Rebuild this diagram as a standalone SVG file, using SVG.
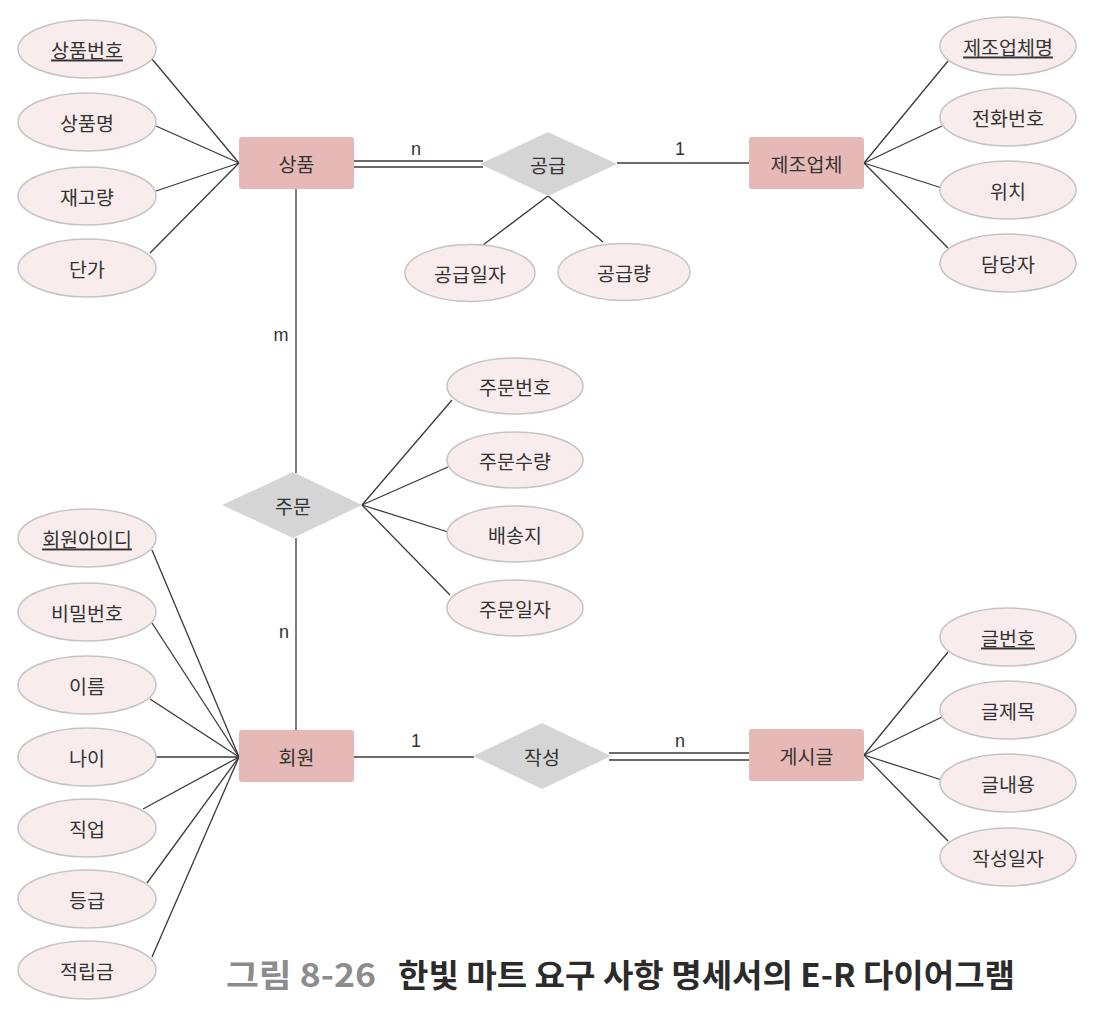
<svg xmlns="http://www.w3.org/2000/svg" width="1108" height="1020" viewBox="0 0 1108 1020">
<style>
text{font-family:"Noto Sans CJK KR","Noto Sans",sans-serif;fill:#333;}
.lbl{font-size:19.5px;text-anchor:middle;dominant-baseline:central;}
.key{text-decoration:underline;}
.attr{fill:#f8ecec;stroke:#c4c4c4;stroke-width:1.5;}
.ent{fill:#e6b9b6;}
.rel{fill:#d5d5d5;}
.ln{stroke:#3a3a3a;stroke-width:1.3;fill:none;}
.card{font-family:"Liberation Sans",Arial,sans-serif;font-size:18px;text-anchor:middle;fill:#333;}
.cap{font-size:32px;font-weight:bold;}
</style>
<rect width="1108" height="1020" fill="#fff"/>
<g id="connectors">
  <line class="ln" x1="152" y1="59" x2="239" y2="163"/>
  <line class="ln" x1="156" y1="126" x2="239" y2="163"/>
  <line class="ln" x1="156" y1="191" x2="239" y2="163"/>
  <line class="ln" x1="150" y1="253" x2="239" y2="163"/>
  <line class="ln" x1="864" y1="163" x2="948" y2="61"/>
  <line class="ln" x1="864" y1="163" x2="942" y2="126"/>
  <line class="ln" x1="864" y1="163" x2="942" y2="188"/>
  <line class="ln" x1="864" y1="163" x2="948" y2="248"/>
  <line class="ln" x1="354" y1="161" x2="483" y2="161"/>
  <line class="ln" x1="354" y1="167" x2="483" y2="167"/>
  <line class="ln" x1="617" y1="163" x2="749" y2="163"/>
  <line class="ln" x1="548" y1="196" x2="483" y2="245"/>
  <line class="ln" x1="548" y1="196" x2="603" y2="242"/>
  <line class="ln" x1="296" y1="189" x2="296" y2="473"/>
  <line class="ln" x1="296" y1="538" x2="296" y2="730"/>
  <line class="ln" x1="362" y1="505" x2="452" y2="400"/>
  <line class="ln" x1="362" y1="505" x2="448" y2="467"/>
  <line class="ln" x1="362" y1="505" x2="448" y2="532"/>
  <line class="ln" x1="362" y1="505" x2="450" y2="595"/>
  <line class="ln" x1="152" y1="550" x2="239" y2="757"/>
  <line class="ln" x1="152" y1="623" x2="239" y2="757"/>
  <line class="ln" x1="150" y1="699" x2="239" y2="757"/>
  <line class="ln" x1="156" y1="757" x2="239" y2="757"/>
  <line class="ln" x1="143" y1="809" x2="239" y2="757"/>
  <line class="ln" x1="147" y1="883" x2="239" y2="757"/>
  <line class="ln" x1="152" y1="957" x2="239" y2="757"/>
  <line class="ln" x1="354" y1="757" x2="474" y2="757"/>
  <line class="ln" x1="609" y1="753" x2="749" y2="753"/>
  <line class="ln" x1="609" y1="760" x2="749" y2="760"/>
  <line class="ln" x1="864" y1="755" x2="948" y2="652"/>
  <line class="ln" x1="864" y1="755" x2="942" y2="717"/>
  <line class="ln" x1="864" y1="755" x2="942" y2="780"/>
  <line class="ln" x1="864" y1="755" x2="948" y2="841"/>
  <text class="card" x="416" y="155">n</text>
  <text class="card" x="680" y="155">1</text>
  <text class="card" x="281" y="341">m</text>
  <text class="card" x="284" y="638">n</text>
  <text class="card" x="416" y="747">1</text>
  <text class="card" x="680" y="747">n</text>
</g>
<g id="상품"><rect class="ent" x="239" y="137" width="115" height="52" rx="3"/><text class="lbl" x="296.5" y="163">상품</text></g>
<g id="제조업체"><rect class="ent" x="749" y="137" width="115" height="52" rx="3"/><text class="lbl" x="806.5" y="163">제조업체</text></g>
<g id="회원"><rect class="ent" x="239" y="730" width="115" height="52" rx="3"/><text class="lbl" x="296.5" y="756">회원</text></g>
<g id="게시글"><rect class="ent" x="749" y="729" width="115" height="52" rx="3"/><text class="lbl" x="806.5" y="755">게시글</text></g>
<g id="공급"><polygon class="rel" points="480,164 548,132 617,164 548,196"/><text class="lbl" x="548" y="164">공급</text></g>
<g id="주문"><polygon class="rel" points="222,505 293,472 362,505 293,538"/><text class="lbl" x="293" y="505">주문</text></g>
<g id="작성"><polygon class="rel" points="473,756 542,723 611,756 542,789"/><text class="lbl" x="542" y="756">작성</text></g>
<g id="상품번호"><ellipse class="attr" cx="87" cy="49" rx="69" ry="29"/><text class="lbl key" x="87" y="49">상품번호</text></g>
<g id="상품명"><ellipse class="attr" cx="87" cy="122" rx="69" ry="29"/><text class="lbl" x="87" y="122">상품명</text></g>
<g id="재고량"><ellipse class="attr" cx="87" cy="196" rx="69" ry="29"/><text class="lbl" x="87" y="196">재고량</text></g>
<g id="단가"><ellipse class="attr" cx="87" cy="268" rx="69" ry="29"/><text class="lbl" x="87" y="268">단가</text></g>
<g id="제조업체명"><ellipse class="attr" cx="1008" cy="46" rx="68" ry="29"/><text class="lbl key" x="1008" y="46">제조업체명</text></g>
<g id="전화번호"><ellipse class="attr" cx="1008" cy="117" rx="68" ry="29"/><text class="lbl" x="1008" y="117">전화번호</text></g>
<g id="위치"><ellipse class="attr" cx="1008" cy="190" rx="68" ry="29"/><text class="lbl" x="1008" y="190">위치</text></g>
<g id="담당자"><ellipse class="attr" cx="1008" cy="263" rx="68" ry="29"/><text class="lbl" x="1008" y="263">담당자</text></g>
<g id="공급일자"><ellipse class="attr" cx="470" cy="273" rx="65" ry="28.5"/><text class="lbl" x="470" y="273">공급일자</text></g>
<g id="공급량"><ellipse class="attr" cx="624" cy="272" rx="66" ry="28.5"/><text class="lbl" x="624" y="272">공급량</text></g>
<g id="주문번호"><ellipse class="attr" cx="515" cy="386" rx="68" ry="28"/><text class="lbl" x="515" y="386">주문번호</text></g>
<g id="주문수량"><ellipse class="attr" cx="515" cy="460" rx="68" ry="28"/><text class="lbl" x="515" y="460">주문수량</text></g>
<g id="배송지"><ellipse class="attr" cx="515" cy="534" rx="68" ry="28"/><text class="lbl" x="515" y="534">배송지</text></g>
<g id="주문일자"><ellipse class="attr" cx="515" cy="608" rx="68" ry="28"/><text class="lbl" x="515" y="608">주문일자</text></g>
<g id="회원아이디"><ellipse class="attr" cx="87" cy="538" rx="69" ry="29"/><text class="lbl key" x="87" y="538">회원아이디</text></g>
<g id="비밀번호"><ellipse class="attr" cx="87" cy="612" rx="69" ry="29"/><text class="lbl" x="87" y="612">비밀번호</text></g>
<g id="이름"><ellipse class="attr" cx="87" cy="685" rx="69" ry="29"/><text class="lbl" x="87" y="685">이름</text></g>
<g id="나이"><ellipse class="attr" cx="87" cy="757" rx="69" ry="29"/><text class="lbl" x="87" y="757">나이</text></g>
<g id="직업"><ellipse class="attr" cx="87" cy="828" rx="69" ry="29"/><text class="lbl" x="87" y="828">직업</text></g>
<g id="등급"><ellipse class="attr" cx="87" cy="899" rx="69" ry="29"/><text class="lbl" x="87" y="899">등급</text></g>
<g id="적립금"><ellipse class="attr" cx="87" cy="970" rx="69" ry="29"/><text class="lbl" x="87" y="970">적립금</text></g>
<g id="글번호"><ellipse class="attr" cx="1008" cy="637" rx="68" ry="29"/><text class="lbl key" x="1008" y="637">글번호</text></g>
<g id="글제목"><ellipse class="attr" cx="1008" cy="710" rx="68" ry="29"/><text class="lbl" x="1008" y="710">글제목</text></g>
<g id="글내용"><ellipse class="attr" cx="1008" cy="783" rx="68" ry="29"/><text class="lbl" x="1008" y="783">글내용</text></g>
<g id="작성일자"><ellipse class="attr" cx="1008" cy="857" rx="68" ry="29"/><text class="lbl" x="1008" y="857">작성일자</text></g>
<g id="caption">
  <text class="cap" x="226" y="987" style="fill:#8c8c8c" textLength="150" lengthAdjust="spacingAndGlyphs">그림 8-26</text>
  <text class="cap" x="398" y="987" style="fill:#2b2b2b" textLength="617" lengthAdjust="spacingAndGlyphs">한빛 마트 요구 사항 명세서의 E-R 다이어그램</text>
</g>
</svg>
